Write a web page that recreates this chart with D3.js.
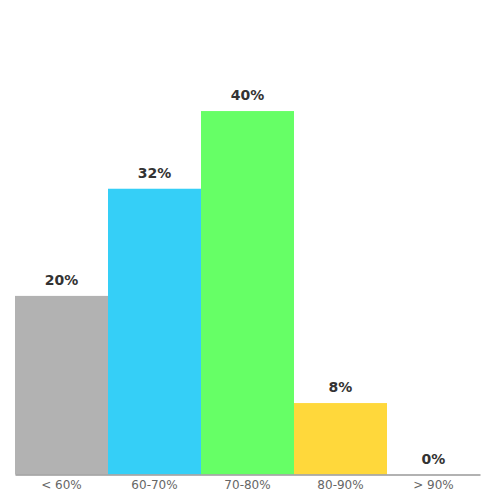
<!DOCTYPE html>
<html lang="en">
<head>
	<meta charset="utf-8">
	<script src="https://d3js.org/d3.v7.min.js"></script>
	<style type="text/css">
		body { margin: 0; background: #fff; }
		text { font-family: "DejaVu Sans", sans-serif; }
	</style>
</head>
<body>
	<svg id="chart" width="500" height="500"></svg>
	<script type="text/javascript">
		// score ranges and share of results (%)
		var categories = ["< 60%", "60-70%", "70-80%", "80-90%", "> 90%"];
		var values = [20, 32, 40.7, 8, 0];
		var colors = ["#b2b2b2", "#35cff7", "#66ff66", "#ffd83b", "#cccccc"];

		var width = 500;
		var height = 500;
		var margin = { top: 28, right: 20, bottom: 25.5, left: 15 };

		var svg = d3.select("#chart");

		var x = d3.scaleBand()
			.domain(categories)
			.range([margin.left, width - margin.right])
			.padding(0);

		var y = d3.scaleLinear()
			.domain([0, 50])
			.range([height - margin.bottom, margin.top]);

		svg.selectAll("rect.bar")
			.data(values)
			.enter()
			.append("rect")
			.attr("class", "bar")
			.attr("x", function (d, i) { return x(categories[i]); })
			.attr("y", function (d) { return y(d); })
			.attr("width", x.bandwidth())
			.attr("height", function (d) { return y(0) - y(d); })
			.style("fill", function (d, i) { return colors[i]; });

		svg.selectAll("text.value")
			.data(values)
			.enter()
			.append("text")
			.attr("class", "value")
			.attr("x", function (d, i) { return x(categories[i]) + x.bandwidth() / 2; })
			.attr("y", function (d) { return y(d) - 11; })
			.attr("text-anchor", "middle")
			.attr("font-size", "14px")
			.attr("font-weight", "bold")
			.style("fill", "#333")
			.text(function (d) { return Math.floor(d) + "%"; });

		var axis = svg.append("g")
			.attr("transform", "translate(0," + y(0) + ")")
			.call(d3.axisBottom(x).tickSize(0).tickPadding(6));

		axis.select(".domain")
			.attr("stroke", "#999")
			.attr("stroke-width", 1.5);

		axis.selectAll("text")
			.attr("font-size", "12px")
			.attr("font-family", "DejaVu Sans, sans-serif")
			.style("fill", "#666");
	</script>
</body>
</html>
